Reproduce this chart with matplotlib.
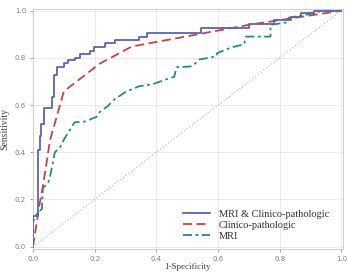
import matplotlib
matplotlib.use("Agg")
import matplotlib.pyplot as plt

# MRI & Clinico-pathologic (step ROC corners)
combo_fpr = [0, 0, 0.016, 0.016, 0.022, 0.022, 0.027, 0.027, 0.035, 0.035, 0.061, 0.061,
             0.068, 0.068, 0.077, 0.077, 0.10, 0.10, 0.113, 0.113, 0.135, 0.135,
             0.152, 0.152, 0.184, 0.184, 0.197, 0.197, 0.232, 0.232, 0.265, 0.265,
             0.345, 0.345, 0.371, 0.371, 0.545, 0.545, 0.70, 0.70, 0.78, 0.78,
             0.835, 0.835, 0.87, 0.87, 0.91, 0.91, 1.0]
combo_tpr = [0, 0.13, 0.13, 0.41, 0.41, 0.47, 0.47, 0.52, 0.52, 0.587, 0.587, 0.633,
             0.633, 0.726, 0.726, 0.76, 0.76, 0.78, 0.78, 0.79, 0.79, 0.80,
             0.80, 0.818, 0.818, 0.827, 0.827, 0.844, 0.844, 0.865, 0.865, 0.877,
             0.877, 0.89, 0.89, 0.905, 0.905, 0.928, 0.928, 0.945, 0.945, 0.962,
             0.962, 0.975, 0.975, 0.99, 0.99, 1.0, 1.0]

# Clinico-pathologic
clin_fpr = [0, 0.02, 0.035, 0.055, 0.10, 0.216, 0.32, 0.70, 1.0]
clin_tpr = [0, 0.17, 0.28, 0.45, 0.658, 0.775, 0.848, 0.94, 1.0]

# MRI
mri_fpr = [0, 0, 0.013, 0.029, 0.032, 0.048, 0.055, 0.071, 0.087, 0.103, 0.135, 0.168,
           0.206, 0.216, 0.242, 0.265, 0.303, 0.345, 0.387, 0.432, 0.458, 0.465,
           0.516, 0.539, 0.594, 0.597, 0.642, 0.684, 0.69, 0.77, 0.77, 0.823,
           0.829, 0.916, 0.935, 1.0]
mri_tpr = [0, 0.105, 0.14, 0.16, 0.25, 0.266, 0.295, 0.40, 0.42, 0.46, 0.527, 0.53,
           0.55, 0.57, 0.595, 0.625, 0.658, 0.68, 0.688, 0.709, 0.72, 0.76,
           0.764, 0.793, 0.806, 0.82, 0.844, 0.857, 0.89, 0.89, 0.94, 0.95,
           0.97, 0.99, 1.0, 1.0]

series_labels = ["MRI & Clinico-pathologic", "Clinico-pathologic", "MRI"]
ticks = [0.0, 0.2, 0.4, 0.6, 0.8, 1.0]
tick_labels = ["0.0", "0.2", "0.4", "0.6", "0.8", "1.0"]

fig = plt.figure(figsize=(3.47, 2.75), dpi=100)
ax = fig.add_axes([33/347, (275-249)/275, (343-33)/347, (249-9)/275])

ax.plot([0, 1], [0, 1], color="#b0b0b0", lw=0.8, ls=(0, (1, 2)), zorder=1)
ax.plot(combo_fpr, combo_tpr, color="#5a66ad", lw=1.3, label=series_labels[0], zorder=4)
ax.plot(clin_fpr, clin_tpr, color="#c0453f", lw=1.3, ls=(0, (5, 2.5)), label=series_labels[1], zorder=3)
ax.plot(mri_fpr, mri_tpr, color="#2a8a78", lw=1.3, ls=(0, (5, 2, 1.5, 2)), label=series_labels[2], zorder=2)

ax.set_xlim(0, 1.005)
ax.set_ylim(-0.01, 1.007)
ax.set_xticks(ticks)
ax.set_xticklabels(tick_labels)
ax.set_yticks(ticks)
ax.set_yticklabels(tick_labels)
ax.tick_params(labelsize=5, colors="#808080", length=2, width=0.5, pad=3)
ax.grid(True, color="#e6e6e6", lw=0.6)
ax.set_axisbelow(True)
for s in ax.spines.values():
    s.set_color("#c8c8c8")
    s.set_linewidth(0.6)

ax.set_ylabel("Sensitivity", fontsize=7, color="#404040", labelpad=4, family="Liberation Serif")
ax.set_xlabel("1-Specificity", fontsize=6.5, color="#404040", labelpad=0.5, family="Liberation Serif")

leg = ax.legend(loc="lower right", frameon=False, prop={"family": "Liberation Serif", "size": 7.5},
                handlelength=2.6, handletextpad=0.8, labelspacing=0.15,
                bbox_to_anchor=(0.985, -0.005))
for t in leg.get_texts():
    t.set_color("#303040")

fig.savefig("out.png", dpi=100)
